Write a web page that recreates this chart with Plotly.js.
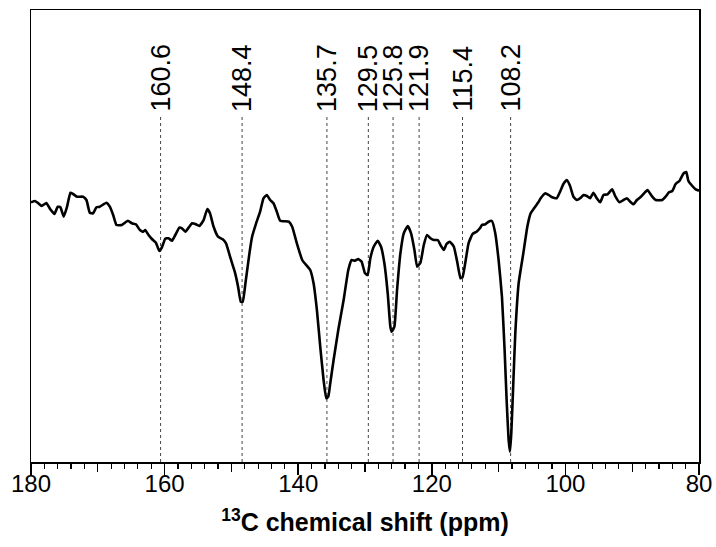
<!DOCTYPE html>
<html>
<head>
<meta charset="utf-8">
<script src="https://cdn.plot.ly/plotly-3.0.1.min.js"></script>
<style>html,body{margin:0;padding:0;background:#fff;}#chart{width:716px;height:547px;}</style>
</head>
<body>
<div id="chart"></div>
<script>
// 13C chemical shift (ppm)
const shift = [
180.0,179.4,178.9,178.4,177.7,177.2,176.5,176.0,175.6,175.1,174.6,174.1,173.7,173.1,172.2,171.7,171.2,170.7,170.2,169.7,
168.7,168.2,167.7,167.2,166.4,165.5,164.9,164.3,163.7,163.2,162.9,162.4,161.9,161.3,160.8,160.4,159.9,159.4,158.9,158.4,
157.8,157.4,156.9,156.3,155.9,155.4,154.8,154.2,153.6,153.2,152.7,152.0,151.3,150.8,150.2,149.5,149.0,148.6,148.3,147.9,
147.3,146.9,146.3,145.7,145.2,144.7,144.2,143.7,143.2,142.7,141.4,140.9,140.2,139.4,138.9,138.2,137.7,137.2,136.7,136.2,
135.8,135.5,135.2,134.7,134.0,133.2,132.5,132.0,131.5,131.0,130.5,130.0,129.6,129.2,128.7,128.1,127.6,127.1,126.6,126.2,
126.0,125.6,125.2,124.7,124.2,123.6,123.1,122.6,122.2,121.7,121.2,120.7,120.2,119.7,119.1,118.7,118.2,117.8,117.3,116.7,
116.2,115.7,115.4,115.0,114.5,113.9,113.3,112.8,112.5,112.0,111.5,111.0,110.5,110.0,109.5,109.1,108.8,108.5,108.3,108.1,
107.8,107.5,107.0,106.3,105.7,105.2,104.7,104.0,103.7,103.0,102.5,102.0,101.3,100.8,100.3,99.8,99.3,98.8,98.3,97.8,
97.3,96.8,96.3,95.8,95.3,94.8,94.3,93.7,93.0,92.5,91.9,91.3,90.8,90.3,89.8,89.3,88.7,88.0,87.7,87.0,
86.5,85.5,85.0,84.5,84.0,83.5,82.9,82.3,81.9,81.6,81.0,80.5,80.0
];
// signal intensity (arbitrary units)
const intensity = [
259.7,261,258.7,256,259,253.7,248,255.3,254.7,245.3,255.3,269.3,268,265.3,265.3,262,249.3,248.7,254.7,255.3,
259.3,255.3,247,237,237,241.3,238.7,237.7,232,230.3,232,227,223,219.3,211,214.7,223.3,223.7,221.3,227,
234.3,233.7,230.3,235.3,238.7,238,236,241.3,253,248.7,236,225.3,222.7,218.7,205.3,190.3,175.3,160.3,160.3,178.7,
208.7,225.3,238.7,250.3,263.7,267,262,258.7,250.3,241.3,240.3,235.3,218.7,202,197.7,192,178.7,152,115.3,82,
63.7,65.3,78.7,102,132,162,192,202,201.3,203,200.3,188.7,187,203.7,215.3,221.3,215.3,198.7,168.7,135.3,
130.3,135.3,172,208.7,228.7,236,228.7,212,195.3,199.3,217,227,223.7,222,222,217,212,218,220.3,215.3,
200.3,183.7,184.7,198.7,218.7,228,230.3,233.7,237,237.7,240.3,241,228.7,202,165.3,112,62,22,10.3,28.7,
78.7,128.7,178.7,208.7,235.3,248.7,253.7,260.3,263.7,268.7,267,264.7,263.7,270.3,278,282,276,265.3,262,263.7,
267,266,263.7,269.3,263.7,259.7,267,267.7,272.7,265.3,259.7,262,263.7,260.3,257.7,262,265.3,270.3,272,265.3,
262,262,265.3,269.7,271,278,281.3,288.7,290,281.3,276,272.7,271.3
];
// assigned peaks (ppm) and their labels
const peaks = [160.6, 148.4, 135.7, 129.5, 125.8, 121.9, 115.4, 108.2];
const peakLabels = ["160.6", "148.4", "135.7", "129.5", "125.8", "121.9", "115.4", "108.2"];
const xTicks = [180, 160, 140, 120, 100, 80];
const xTickLabels = ["180", "160", "140", "120", "100", "80"];

const FONT = "Arial, 'Liberation Sans', Helvetica, sans-serif";
const labelTop = 346; // data units where dotted lines end

const trace = {
  x: shift, y: intensity, type: 'scatter', mode: 'lines',
  line: {color: '#000', width: 2.6, shape: 'spline', smoothing: 0.4},
  hoverinfo: 'skip', showlegend: false
};
const helper = {x: [180, 80], y: [0, 0], xaxis: 'x2', yaxis: 'y', mode: 'lines',
  line: {width: 0}, hoverinfo: 'skip', showlegend: false};

const shapes = peaks.map(p => ({
  type: 'line', xref: 'x', yref: 'y', x0: p, x1: p, y0: 0, y1: labelTop,
  line: {color: '#444', width: 1, dash: 'dot'}, layer: 'below'
}));
const annotations = peaks.map((p, i) => ({
  x: p, y: labelTop + 2, xref: 'x', yref: 'y', text: peakLabels[i],
  textangle: -90, showarrow: false, xanchor: 'center', yanchor: 'bottom',
  font: {family: FONT, size: 27, color: '#000'}
}));

const layout = {
  width: 716, height: 547,
  margin: {l: 31, r: 17, t: 10, b: 85},
  paper_bgcolor: '#fff', plot_bgcolor: '#fff',
  xaxis: {
    range: [180, 80], autorange: false,
    tickmode: 'array', tickvals: xTicks, ticktext: xTickLabels,
    ticks: '',
    minor: {dtick: 2, tick0: 80, ticks: 'outside', ticklen: 5, tickwidth: 1.2, tickcolor: '#000', showgrid: false},
    showline: true, linecolor: '#000', linewidth: 1.5, mirror: true,
    showgrid: false, zeroline: false,
    tickfont: {family: FONT, size: 24, color: '#000'},
    title: {text: '<b><sup>13</sup>C chemical shift (ppm)</b>', font: {family: FONT, size: 25, color: '#000'}, standoff: 17}
  },
  xaxis2: {
    range: [180, 80], autorange: false, overlaying: 'x', anchor: 'y', side: 'bottom',
    tickmode: 'linear', tick0: 80, dtick: 20, ticks: 'outside', ticklen: 12, tickwidth: 1.5, tickcolor: '#000',
    minor: {dtick: 10, tick0: 80, ticks: 'outside', ticklen: 9, tickwidth: 1.3, tickcolor: '#000', showgrid: false},
    showticklabels: false, showgrid: false, zeroline: false, showline: false
  },
  yaxis: {
    range: [0, 452], autorange: false, showticklabels: false, ticks: '',
    showline: true, linecolor: '#000', linewidth: 1.5, mirror: true,
    showgrid: false, zeroline: false
  },
  shapes: shapes,
  annotations: annotations
};

Plotly.newPlot('chart', [helper, trace], layout, {staticPlot: true, displayModeBar: false});
</script>
</body>
</html>
